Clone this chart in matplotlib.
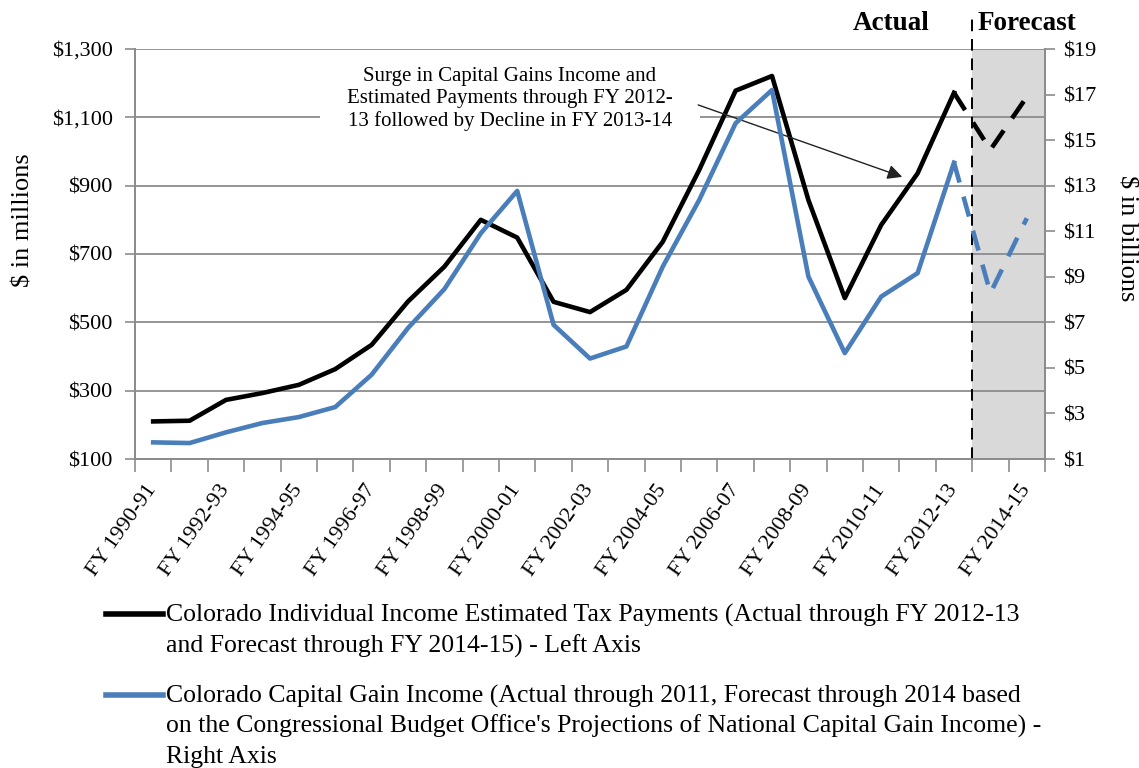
import numpy as np
import matplotlib
matplotlib.use("Agg")
import matplotlib.pyplot as plt
from matplotlib.lines import Line2D
from matplotlib.patches import Rectangle

plt.rcParams['font.family'] = ['Liberation Serif', 'DejaVu Serif']

# -----------------------------------------------------------------------------
# data
# -----------------------------------------------------------------------------
years = ['FY 1990-91', 'FY 1991-92', 'FY 1992-93', 'FY 1993-94', 'FY 1994-95',
         'FY 1995-96', 'FY 1996-97', 'FY 1997-98', 'FY 1998-99', 'FY 1999-00',
         'FY 2000-01', 'FY 2001-02', 'FY 2002-03', 'FY 2003-04', 'FY 2004-05',
         'FY 2005-06', 'FY 2006-07', 'FY 2007-08', 'FY 2008-09', 'FY 2009-10',
         'FY 2010-11', 'FY 2011-12', 'FY 2012-13', 'FY 2013-14', 'FY 2014-15']

# estimated tax payments, $ millions (left axis)
est_payments = [210, 212, 273, 293, 317, 363, 434, 561, 663, 800,
                748, 560, 530, 595, 736, 946, 1178, 1221, 858, 571,
                785, 936, 1172, 1005, 1160]

# capital gain income, $ billions (right axis)
cap_gains = [1.73, 1.70, 2.17, 2.58, 2.84, 3.28, 4.70, 6.75, 8.46, 10.91,
             12.77, 6.89, 5.41, 5.94, 9.45, 12.37, 15.74, 17.20, 9.01, 5.65,
             8.13, 9.16, 14.01, 8.28, 11.57]

n_actual = 23   # last actual point is FY 2012-13

left_ticks = [100, 300, 500, 700, 900, 1100, 1300]
right_ticks = [1, 3, 5, 7, 9, 11, 13, 15, 17, 19]

legend_black = ['Colorado Individual Income Estimated Tax Payments (Actual through FY 2012-13',
                'and Forecast through FY 2014-15) - Left Axis']
legend_blue = ['Colorado Capital Gain Income (Actual through 2011, Forecast through 2014 based',
               "on the Congressional Budget Office's Projections of National Capital Gain Income) -",
               'Right Axis']
note = ('Surge in Capital Gains Income and\n'
        'Estimated Payments through FY 2012-\n'
        '13 followed by Decline in FY 2013-14')

# -----------------------------------------------------------------------------
W, H = 1139, 768
fig = plt.figure(figsize=(W / 100, H / 100), dpi=100)
ax = fig.add_axes([135 / W, 1 - 459 / H, (1045 - 135) / W, (459 - 49) / H])
ax2 = ax.twinx()

black = '#000000'
blue = '#4a7ebb'
grid_c = '#8c8c8c'
dash = (0, (4.5, 3.2))

x = np.arange(len(years))

# forecast shading + divider
ax.axvspan(n_actual - 0.5, len(years) - 0.5, color='#d9d9d9', zorder=0, lw=0)
ax.axvline(n_actual - 0.5, ymin=0, ymax=1.083, color='black', lw=1.4,
           ls=(0, (6, 4)), clip_on=False, zorder=5)

ax.plot(x[:n_actual], est_payments[:n_actual], color=black, lw=3.3, zorder=4)
ax.plot(x[n_actual - 1:], est_payments[n_actual - 1:], color=black, lw=3.3,
        ls=dash, zorder=4)

ax2.plot(x[:n_actual], cap_gains[:n_actual], color=blue, lw=3.3, zorder=3)
ax2.plot(x[n_actual - 1:], cap_gains[n_actual - 1:], color=blue, lw=3.3,
         ls=dash, zorder=3)

# axes
ax.set_xlim(-0.5, len(years) - 0.5)
ax.set_ylim(100, 1300)
ax2.set_ylim(1, 19)
ax.set_yticks(left_ticks)
ax.set_yticklabels(['${:,}'.format(v) for v in left_ticks], fontsize=16)
ax2.set_yticks(right_ticks)
ax2.set_yticklabels(['${}'.format(v) for v in right_ticks], fontsize=16)

ax.set_xticks(x[::2])
ax.set_xticklabels(years[::2], rotation=55, ha='right', va='center',
                   rotation_mode='anchor', fontsize=16)
ax.set_xticks(np.arange(-0.5, len(years)), minor=True)
ax.tick_params(axis='x', which='major', length=0, pad=20)
ax.tick_params(axis='x', which='minor', length=9, color=grid_c, width=1.2)
ax.tick_params(axis='y', length=7, color=grid_c, width=1.2, pad=9)
ax2.tick_params(axis='y', length=7, color=grid_c, width=1.2, pad=6)

ax.grid(axis='y', color=grid_c, lw=1.3, zorder=1)
ax.set_axisbelow(True)
for a in (ax, ax2):
    a.spines['top'].set_visible(False)
    for s in ('left', 'right', 'bottom'):
        a.spines[s].set_color(grid_c)
        a.spines[s].set_linewidth(1.3)

ax.set_ylabel('$ in millions', fontsize=19)
ax.yaxis.set_label_coords(-0.11, 0.583)
ax2.set_ylabel('$ in billions', fontsize=19, rotation=270, va='center')
ax2.yaxis.set_label_coords(1.09, 0.539)

# labels above plot
fig.text(891 / W, 1 - 30 / H, 'Actual', fontsize=19.5, fontweight='bold',
         ha='center', va='baseline')
fig.text(978 / W, 1 - 30 / H, 'Forecast', fontsize=19.5, fontweight='bold',
         ha='left', va='baseline')

# annotation, the text box breaks the $1,100 gridline
ax.add_patch(Rectangle((4.58, 1060), 15.02 - 4.58, 80, facecolor='white',
                       edgecolor='none', zorder=2))
ax.annotate('', xy=(20.65, 923), xytext=(14.9, 1139),
            arrowprops=dict(arrowstyle='-|>', color='#222222', lw=1.0,
                            mutation_scale=22), zorder=6)
ax.text(9.8, 1153, note, fontsize=15, ha='center', va='center',
        linespacing=1.2, zorder=6,
        bbox=dict(facecolor='white', edgecolor='none', pad=4))

# legend (drawn by hand so the handle sits on the first text line)
entries = ((614, [622, 653], black, legend_black),
           (695, [703, 733, 763], blue, legend_blue))
for yh, baselines, col, lines in entries:
    fig.add_artist(Line2D([106 / W, 163 / W], [1 - yh / H] * 2, color=col, lw=4))
    for yb, txt in zip(baselines, lines):
        fig.text(166 / W, 1 - yb / H, txt, fontsize=18.5, ha='left', va='baseline')

fig.savefig('out.png', dpi=100)
